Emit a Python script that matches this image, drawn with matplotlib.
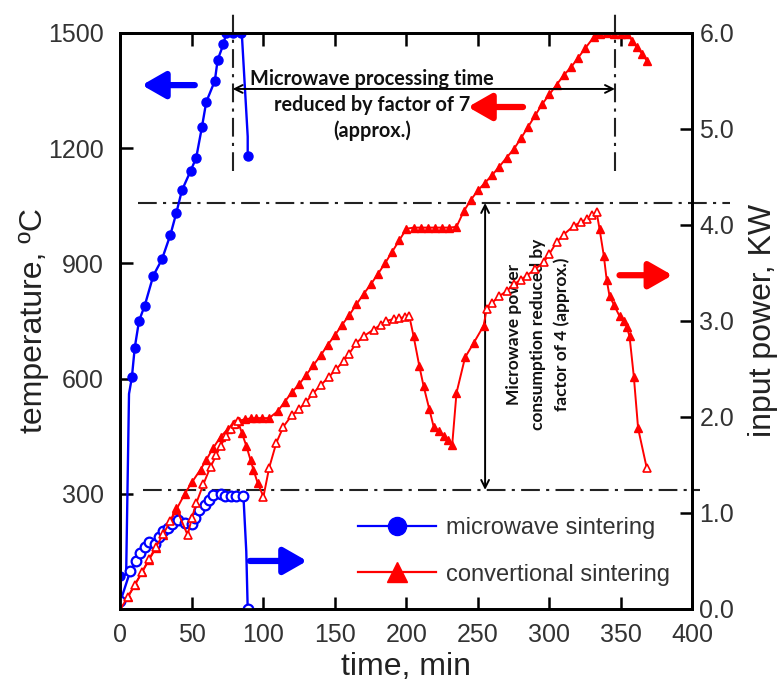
import matplotlib.pyplot as plt
from matplotlib.lines import Line2D

plt.rcParams['font.family'] = ['Liberation Sans', 'DejaVu Sans']

# microwave sintering - temperature (left axis, degC)
mw_temp_t = [0, 0, 4, 6, 8, 10, 13, 17, 23, 29, 35, 39, 43, 49, 53, 57, 60, 66, 68, 72, 74, 79, 84, 85, 89, 89]
mw_temp = [20, 85, 90, 560, 603, 680, 750, 790, 868, 910, 975, 1030, 1090, 1140, 1175, 1255, 1320, 1375, 1430, 1470, 1500, 1500, 1500, 1490, 1230, 1180]
# microwave sintering - input power (right axis, kW)
mw_pow_t = [0, 7, 11, 14, 17, 20, 24, 27, 30, 33, 36, 40, 45, 50, 52, 55, 59, 62, 65, 70, 73, 77, 81, 86, 88, 89]
mw_pow = [0.08, 0.40, 0.50, 0.58, 0.65, 0.70, 0.68, 0.75, 0.81, 0.84, 0.88, 0.93, 0.90, 0.88, 0.95, 1.03, 1.08, 1.13, 1.19, 1.20, 1.18, 1.18, 1.18, 1.18, 0.60, 0.0]

# conventional sintering - temperature
cv_temp_t = [0, 5, 10, 15, 20, 25, 30, 35, 39, 45, 50, 56, 60, 65, 70, 75, 79, 83, 87, 91, 95, 99, 104,
             110, 115, 120, 125, 130, 135, 140, 145, 150, 155, 160, 165, 170, 175, 180, 185, 190, 195, 200,
             205, 210, 215, 220, 225, 230, 235, 240, 245, 250, 255, 260, 265, 270, 275, 280, 285, 290, 295,
             300, 305, 310, 315, 320, 325, 331, 335, 340, 345, 350, 354, 358, 361, 365, 368]
cv_temp = [0, 30, 62, 95, 128, 160, 193, 228, 258, 300, 330, 363, 388, 420, 448, 468, 482, 490, 494, 496, 497, 497, 497,
           515, 540, 565, 585, 610, 635, 660, 688, 713, 740, 765, 793, 820, 845, 872, 900, 930, 960, 990,
           993, 993, 993, 993, 993, 993, 995, 1035, 1065, 1090, 1110, 1130, 1152, 1175, 1197, 1225, 1255, 1285, 1315,
           1340, 1365, 1390, 1410, 1435, 1460, 1489, 1497, 1499, 1498, 1497, 1497, 1480, 1463, 1445, 1428]
# conventional sintering - input power
cv_pow_t = [0, 5, 10, 15, 20, 25, 30, 35, 39, 47, 50, 53, 58, 63, 67, 70, 74, 77, 80, 82, 85, 88, 91, 93, 96, 100,
            104, 109, 114, 120, 125, 130, 135, 140, 146, 151, 156, 160, 165, 170, 177, 182, 186, 191, 195, 199, 202,
            205, 209, 212, 216, 219, 223, 226, 229, 232, 235, 241, 247, 254, 256, 260, 265, 270, 275, 280, 284,
            290, 296, 300, 305, 310, 317, 322, 326, 330, 333, 335, 338, 340, 342, 345, 349, 352, 354, 356, 359, 362, 368]
cv_pow = [0.0, 0.12, 0.25, 0.38, 0.52, 0.65, 0.78, 0.92, 1.05, 0.77, 0.95, 1.10, 1.30, 1.48, 1.60, 1.70, 1.80, 1.87, 1.93, 1.96,
          1.83, 1.70, 1.55, 1.45, 1.31, 1.17,
          1.47, 1.73, 1.90, 2.02, 2.08, 2.16, 2.25, 2.33, 2.42, 2.50, 2.58, 2.66, 2.77, 2.84, 2.91, 2.96, 3.00, 3.02, 3.03, 3.04, 3.05,
          2.84, 2.53, 2.32, 2.08, 1.90, 1.85, 1.80, 1.76, 1.71, 2.25, 2.62, 2.77, 2.95, 3.12, 3.19, 3.26, 3.31, 3.38, 3.43, 3.47,
          3.54, 3.61, 3.70, 3.82, 3.90, 3.99, 4.03, 4.06, 4.10, 4.13, 3.96, 3.68, 3.43, 3.26, 3.17, 3.05, 3.00, 2.94, 2.84, 2.42, 1.88, 1.47]

x_ticks = [0, 50, 100, 150, 200, 250, 300, 350, 400]
temp_ticks = [300, 600, 900, 1200, 1500]
pow_ticks = [0.0, 1.0, 2.0, 3.0, 4.0, 5.0, 6.0]

BLUE = '#0000ff'
RED = '#ff0000'

fig = plt.figure(figsize=(7.82, 6.85), dpi=100)
ax = fig.add_axes([0.154, 0.111, 0.7315, 0.841])
ax2 = ax.twinx()

# temperature curves
ax.plot(mw_temp_t, mw_temp, color=BLUE, lw=1.7, marker='o', ms=6.5,
        markevery=[i for i in range(len(mw_temp_t)) if i not in (2, 3, 23, 24)], zorder=3)
ax.plot(cv_temp_t, cv_temp, color=RED, lw=1.4, marker='^', ms=6, zorder=3)

# power curves
ax2.plot(mw_pow_t, mw_pow, color=BLUE, lw=1.7, marker='o', ms=7, mfc='white', mew=1.6,
         markevery=[i for i in range(len(mw_pow_t)) if i != 24])


def is_filled(t):
    return t == 39 or 82 < t < 100 or 202 < t < 256 or 333 < t < 368


ax2.plot(cv_pow_t, cv_pow, color=RED, lw=1.4, marker='^', ms=6, mfc='white', mew=1.2,
         markevery=[i for i, t in enumerate(cv_pow_t) if not is_filled(t)])
ax2.plot(cv_pow_t, cv_pow, color=RED, lw=0, marker='^', ms=6,
         markevery=[i for i, t in enumerate(cv_pow_t) if is_filled(t)])

# axes setup
ax.set_xlim(0, 400)
ax.set_ylim(0, 1500)
ax2.set_ylim(0, 6)
ax.set_xticks(x_ticks)
ax.set_yticks(temp_ticks)
ax2.set_yticks(pow_ticks)
ax2.set_yticklabels([f'{v:.1f}' for v in pow_ticks])
for a in (ax, ax2):
    for s in a.spines.values():
        s.set_linewidth(2)
ax.tick_params(axis='x', direction='in', top=True, length=9, width=1.8, pad=10,
               labelsize=18, labelcolor='#333333')
ax.tick_params(axis='y', direction='in', length=9, width=1.8, pad=12,
               labelsize=18, labelcolor='#333333')
ax2.tick_params(axis='y', direction='in', length=9, width=1.8, pad=5,
                labelsize=18, labelcolor='#333333')

ax.set_xlabel('time, min', fontsize=23, color='#222222')
ax.xaxis.set_label_coords(0.5, -0.074)
ax.set_ylabel('temperature, ºC', fontsize=23, color='#222222')
ax.yaxis.set_label_coords(-0.125, 0.5)
ax2.set_ylabel('input power, KW', fontsize=23, color='#222222')
ax2.yaxis.set_label_coords(1.097, 0.5)

# reference dash-dot lines
dd = dict(color='#222222', lw=1.5, dashes=[9, 3, 1.5, 3], clip_on=False, zorder=2)
ax.plot([12, 426], [1057, 1057], **dd)
ax.plot([16, 405], [310, 310], **dd)
ax.plot([78.5, 78.5], [1140, 1562], **dd)
ax.plot([345.8, 345.8], [1140, 1562], **dd)

# double-headed arrows
ax.annotate('', xy=(78.5, 1354), xytext=(345.8, 1354),
            arrowprops=dict(arrowstyle='<->', lw=1.4, color='black', shrinkA=0, shrinkB=0, mutation_scale=14))
ax.annotate('', xy=(255, 1057), xytext=(255, 310),
            arrowprops=dict(arrowstyle='<->', lw=1.4, color='black', shrinkA=0, shrinkB=0, mutation_scale=14))

ax.text(176, 1312, 'Microwave processing time\nreduced by factor of 7\n(approx.)',
        ha='center', va='center', fontsize=14.3, fontweight='bold', family='Lato',
        linespacing=1.35, color='#111111')
ax.text(292, 715, 'Microwave power\nconsumption reduced by\nfactor of 4 (approx.)',
        ha='center', va='center', rotation=90, fontsize=12.5, fontweight='bold', family='Lato',
        linespacing=1.55, color='#111111')

# colored axis-indicator arrows
def fat_arrow(tail, head, color):
    ax.annotate('', xy=head, xytext=tail,
                arrowprops=dict(arrowstyle='-|>,head_length=0.7,head_width=0.4', lw=4.5,
                                color=color, shrinkA=0, shrinkB=0, mutation_scale=20))


fat_arrow((52, 1364), (15, 1364), BLUE)
fat_arrow((281.5, 1307), (243, 1307), RED)
fat_arrow((349, 869), (386, 869), RED)
fat_arrow((90.5, 125), (130.5, 125), BLUE)

# legend
handles = [Line2D([], [], color=BLUE, lw=1.6, marker='o', ms=13),
           Line2D([], [], color=RED, lw=1.6, marker='^', ms=14)]
ax2.legend(handles, ['microwave sintering', 'convertional sintering'],
           loc='lower left', bbox_to_anchor=(0.395, 0.02), frameon=False,
           fontsize=17, handlelength=3.3, handletextpad=0.4, labelspacing=1.05,
           borderpad=0, labelcolor='#333333')

fig.savefig('out.png', dpi=100)
